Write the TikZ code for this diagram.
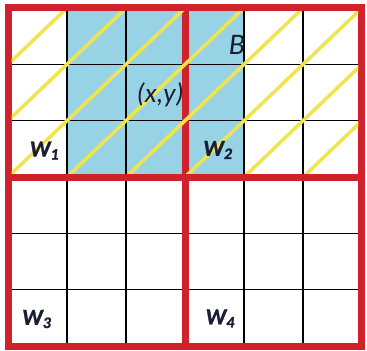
\documentclass[tikz,border=0pt]{standalone}
\usepackage{fontspec}
\setmainfont{Carlito}
\newfontfamily\winfont{Carlito}[ItalicFeatures={FakeBold=2}, BoldItalicFeatures={FakeBold=1.2}]
\definecolor{cellblue}{RGB}{152,211,229}
\definecolor{winred}{RGB}{208,34,44}
\definecolor{diagyellow}{RGB}{240,228,80}
\definecolor{labelink}{RGB}{25,30,50}

\begin{document}
\begin{tikzpicture}[x=1.18cm,y=1.127cm,
    gridline/.style={line width=0.6pt},
    winborder/.style={winred, line width=0.14cm},
    winlabel/.style={text=labelink, font=\winfont\bfseries\itshape\fontsize{13}{13}\selectfont}]
    \useasboundingbox (-0.136,-0.071) rectangle (6.085,6.142);
    % Shaded cells
    \fill[cellblue] (1,3) rectangle (4,6);
    % Grid
    \foreach \i in {1,2,4,5} {
        \draw[gridline] (\i,0) -- (\i,6);
        \draw[gridline] (0,\i) -- (6,\i);
    }
    % Windows
    \draw[winborder] (0,0) rectangle (6,6);
    \draw[winborder] (3,0) -- (3,6) (0,3) -- (6,3);
    % Diagonals
    \begin{scope}
        \clip (0.06,3.062) rectangle (5.94,5.938);
        \foreach \k in {-5,...,2}
            \draw[diagyellow, line width=2pt] (\k,0) -- (\k+6,6);
    \end{scope}
    % Labels
    \node[text=labelink, font=\itshape\fontsize{15.5}{15.5}\selectfont] (xy) at (2.58,4.46) {(x,y)};
    \node[text=labelink, font=\itshape\fontsize{17}{17}\selectfont] (b) at (3.88,5.34) {B};
    \node[winlabel] (w1) at (0.62,3.47) {W\textsubscript{1}};
    \node[winlabel] (w2) at (3.56,3.48) {W\textsubscript{2}};
    \node[winlabel] (w3) at (0.49,0.48) {W\textsubscript{3}};
    \node[winlabel] (w4) at (3.60,0.49) {W\textsubscript{4}};
\end{tikzpicture}
\end{document}
